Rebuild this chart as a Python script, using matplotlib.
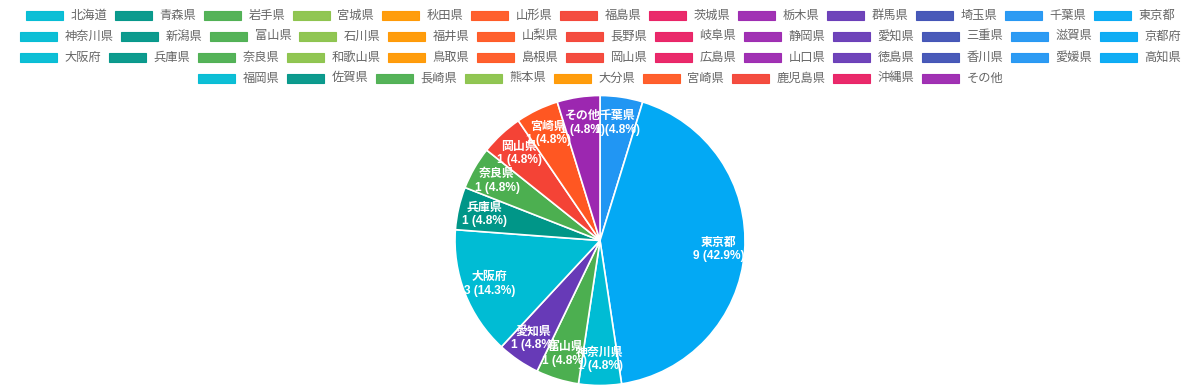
import numpy as np
import matplotlib.pyplot as plt
from matplotlib.patches import Rectangle

plt.rcParams['font.family'] = ['Noto Sans CJK JP', 'DejaVu Sans']

# legend entries (all prefectures + other)
legend_names = ['北海道','青森県','岩手県','宮城県','秋田県','山形県','福島県','茨城県','栃木県','群馬県','埼玉県','千葉県','東京都',
    '神奈川県','新潟県','富山県','石川県','福井県','山梨県','長野県','岐阜県','静岡県','愛知県','三重県','滋賀県','京都府',
    '大阪府','兵庫県','奈良県','和歌山県','鳥取県','島根県','岡山県','広島県','山口県','徳島県','香川県','愛媛県','高知県',
    '福岡県','佐賀県','長崎県','熊本県','大分県','宮崎県','鹿児島県','沖縄県','その他']

palette = ['#00BCD4','#009688','#4CAF50','#8BC34A','#FF9800','#FF5722','#F44336',
    '#E91E63','#9C27B0','#673AB7','#3F51B5','#2196F3','#03A9F4']

# pie data
names = ['千葉県','東京都','神奈川県','富山県','愛知県','大阪府','兵庫県','奈良県','岡山県','宮崎県','その他']
counts = [1, 9, 1, 1, 1, 3, 1, 1, 1, 1, 1]

W, H = 1200, 387
fig = plt.figure(figsize=(W/100, H/100), dpi=100)
ax = fig.add_axes([0, 0, 1, 1])
ax.set_xlim(0, W)
ax.set_ylim(H, 0)
ax.set_aspect('equal')
ax.axis('off')

# legend, rows centred like chart.js
rows = [legend_names[0:13], legend_names[13:26], legend_names[26:39], legend_names[39:]]
box_w, box_h, char_w = 37, 9, 12
row_y = [15, 36, 57, 78]
k = 0
for r, row in enumerate(rows):
    widths = [box_w + 8 + char_w*len(n) for n in row]
    total = sum(widths) + 8*(len(row)-1)
    x = W/2 - total/2
    for n, w in zip(row, widths):
        col = palette[k % len(palette)]
        ax.add_patch(Rectangle((x, row_y[r]-box_h/2), box_w, box_h, facecolor=col,
            edgecolor=col, alpha=0.95, lw=0.8))
        ax.text(x + box_w + 8, row_y[r], n, fontsize=8.8, color='#666666', ha='left', va='center')
        x += w + 8
        k += 1

# pie: y axis is inverted, so draw counter-clockwise to appear clockwise
cx, cy, R = 600, 240.5, 145
pie_colors = [palette[legend_names.index(n) % len(palette)] for n in names]
wedges, _ = ax.pie(counts, colors=pie_colors, startangle=-90, counterclock=True,
    center=(cx, cy), radius=R, wedgeprops=dict(edgecolor='white', linewidth=1.2))
ax.set_xlim(0, W)
ax.set_ylim(H, 0)

total = sum(counts)
for w, n, c in zip(wedges, names, counts):
    frac = c/total
    mid = np.deg2rad((w.theta1 + w.theta2)/2)
    d = 0.82
    tx = cx + d*R*np.cos(mid)
    ty = cy + d*R*np.sin(mid)
    ax.text(tx, ty, '{}\n{} ({:.1f}%)'.format(n, c, frac*100), color='white', fontsize=8.6,
        family=['Liberation Sans', 'Noto Sans CJK JP'], fontweight='bold',
        ha='center', va='center', linespacing=1.15, zorder=5)

fig.savefig('out.png', dpi=100)
